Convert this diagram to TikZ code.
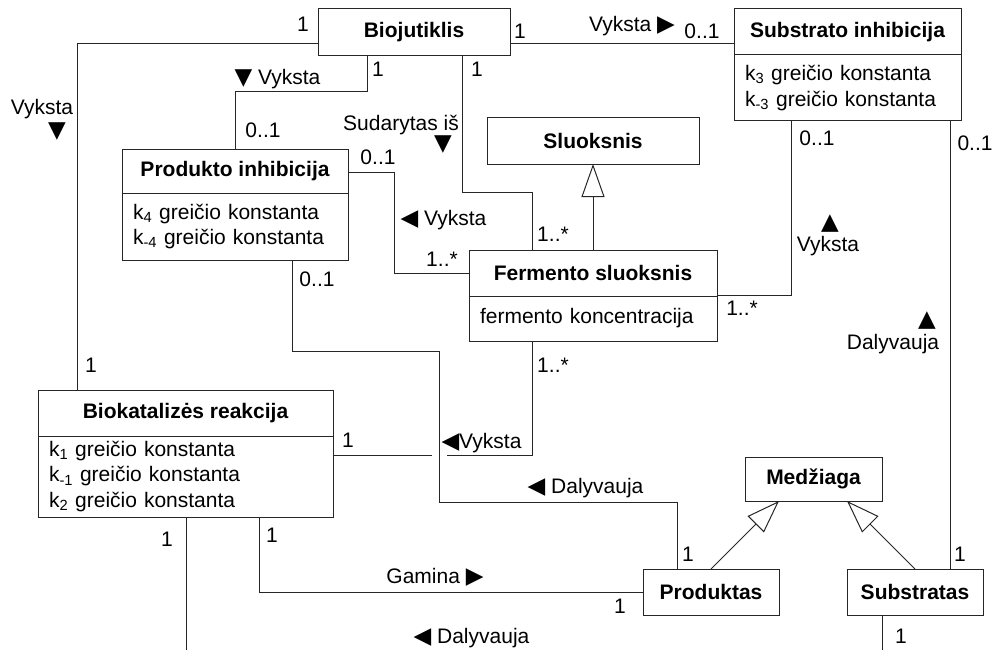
\documentclass[tikz,border=0pt]{standalone}
\usepackage{fontspec}
\setmainfont{Liberation Sans}
\newfontfamily\symf{DejaVu Sans}
\usetikzlibrary{arrows.meta}

\newcommand\dgfont{\fontsize{21pt}{25.5pt}\selectfont}
\newcommand\symsize{\fontsize{23pt}{25.5pt}\selectfont}
\newcommand\tdn{{\symsize\symf ▼}}
\newcommand\tup{{\symsize\symf ▲}}
\newcommand\trt{{\symsize\symf ▶}}
\newcommand\tlt{{\symsize\symf ◀}}

\colorlet{linec}{black!85}

\tikzset{
  cls/.style={draw=linec, line width=1pt, fill=white, font=\dgfont\bfseries,
    inner sep=0pt, outer sep=0pt, anchor=north west},
  attrs/.style={draw=linec, line width=1pt, fill=white, font=\dgfont, align=left,
    inner xsep=11pt, inner ysep=0pt, outer sep=0pt, anchor=north west},
  conn/.style={draw=linec, line width=1pt},
  gen/.style={conn, -{Triangle[open, length=33pt, width=23pt, line width=1pt]}},
  lbl/.style={font=\dgfont, inner sep=0pt, anchor=base},
  sym/.style={font=\dgfont, inner sep=0pt, anchor=center}
}

\begin{document}
\begin{tikzpicture}[x=1pt, y=-1pt]
\useasboundingbox (0,0) rectangle (995,650);

% ---- classes ----
\node[cls, minimum width=192pt, minimum height=47pt] (bioj) at (318,9) {Biojutiklis};

\node[cls, minimum width=227pt, minimum height=46pt] (subinh) at (734,9) {Substrato inhibicija};
\node[attrs, text width=205pt, minimum height=66pt] (subinhb) at (subinh.south west)
  {k\textsubscript{3} greičio konstanta\\k\textsubscript{-3} greičio konstanta};

\node[cls, minimum width=212pt, minimum height=46pt] (sluok) at (487,118) {Sluoksnis};

\node[cls, minimum width=226pt, minimum height=44pt] (prodinh) at (122,149) {Produkto inhibicija};
\node[attrs, text width=204pt, minimum height=67pt] (prodinhb) at (prodinh.south west)
  {k\textsubscript{4} greičio konstanta\\k\textsubscript{-4} greičio konstanta};

\node[cls, minimum width=248pt, minimum height=46pt] (ferm) at (469,250) {Fermento sluoksnis};
\node[attrs, text width=226pt, minimum height=45pt] (fermb) at (ferm.south west)
  {fermento koncentracija};

\node[cls, minimum width=295pt, minimum height=46pt] (biokat) at (38,390) {Biokatalizės reakcija};
\node[attrs, text width=273pt, minimum height=81pt] (biokatb) at (biokat.south west)
  {k\textsubscript{1} greičio konstanta\\k\textsubscript{-1} greičio konstanta\\k\textsubscript{2} greičio konstanta};

\node[cls, minimum width=137pt, minimum height=44pt] (medz) at (745,457) {Medžiaga};
\node[cls, minimum width=136pt, minimum height=46pt] (prod) at (643,569) {Produktas};
\node[cls, minimum width=136pt, minimum height=46pt] (subst) at (847,569) {Substratas};

% ---- bend points ----
\coordinate (a1) at (77,44);
\coordinate (b1) at (367,92);   \coordinate (b2) at (235,92);
\coordinate (d1) at (462,192);  \coordinate (d2) at (532,192);
\coordinate (f1) at (394,172);  \coordinate (f2) at (394,273);
\coordinate (g1) at (791,295);
\coordinate (h1) at (950,121);
\coordinate (i1) at (292,351);  \coordinate (i2) at (439,351);
\coordinate (i3) at (439,502);  \coordinate (i4) at (677,502);
\coordinate (j1) at (532,455);  \coordinate (jr) at (447,455);  \coordinate (jl) at (432,455);
\coordinate (k1) at (259,592);
\coordinate (l1) at (186,650);  \coordinate (l2) at (882,650);
\coordinate (m1) at (779,501);  \coordinate (n1) at (847,501);

% ---- associations ----
\draw[conn] (bioj.west |- a1) -- (a1) -- (a1 |- biokat.north);
\draw[conn] (b1 |- bioj.south) -- (b1) -- (b2) -- (b2 |- prodinh.north);
\draw[conn] (bioj.east |- a1) -- (subinh.west |- a1);
\draw[conn] (d1 |- bioj.south) -- (d1) -- (d2) -- (d2 |- ferm.north);
\draw[conn] (prodinh.east |- f1) -- (f1) -- (f2) -- (f2 -| ferm.west);
\draw[conn] (fermb.east |- g1) -- (g1) -- (g1 |- subinhb.south);
\draw[conn] (subinhb.south -| h1) -- (h1 |- subst.north);
\draw[conn] (i1 |- prodinhb.south) -- (i1) -- (i2) -- (i3) -- (i4) -- (i4 |- prod.north);
\draw[conn] (j1 |- fermb.south) -- (j1) -- (jr);
\draw[conn] (jl) -- (biokatb.east |- jl);
\draw[conn] (k1 |- biokatb.south) -- (k1) -- (k1 -| prod.west);
\draw[conn] (l1 |- biokatb.south) -- (l1);
\draw[conn] (l2 |- subst.south) -- (l2);

% ---- generalizations ----
\draw[gen] (ferm.north) -- (sluok.south);
\draw[gen] (prod.north) -- (medz.south -| m1);
\draw[gen] (subst.north) -- (medz.south -| n1);

% ---- multiplicities ----
\node[lbl] (m01) at (303,32) {1};
\node[lbl] (m02) at (378,77) {1};
\node[lbl] (m03) at (263,138) {0..1};
\node[lbl] (m04) at (477,77) {1};
\node[lbl] (m05) at (378,164) {0..1};
\node[lbl] (m06) at (442,266) {1..*};
\node[lbl] (m07) at (317,286) {0..1};
\node[lbl] (m08) at (520,39) {1};
\node[lbl] (m09) at (702,39) {0..1};
\node[lbl] (m10) at (553,241) {1..*};
\node[lbl] (m11) at (817,146) {0..1};
\node[lbl] (m12) at (975,150) {0..1};
\node[lbl] (m13) at (742,315) {1..*};
\node[lbl] (m14) at (91,372) {1};
\node[lbl] (m15) at (553,372) {1..*};
\node[lbl] (m16) at (348,447) {1};
\node[lbl] (m17) at (688,561) {1};
\node[lbl] (m18) at (960,561) {1};
\node[lbl] (m19) at (167,546) {1};
\node[lbl] (m20) at (272,542) {1};
\node[lbl] (m21) at (620,613) {1};
\node[lbl] (m22) at (901,643) {1};

% ---- association names ----
\node[lbl] (r01) at (42,115) {Vyksta};
\node[sym] (r01s) at (57,132) {\tdn};
\node[lbl] (r02) at (277.5,85) {\tdn{} Vyksta};
\node[lbl] (r03) at (401,130) {Sudarytas iš};
\node[sym] (r03s) at (443,145) {\tdn};
\node[lbl] (r04) at (443.5,225) {\tlt{} Vyksta};
\node[lbl] (r05) at (632,32) {Vyksta \trt};
\node[sym] (r06s) at (830,224) {\tup};
\node[lbl] (r06) at (828,251) {Vyksta};
\node[sym] (r07s) at (927,321) {\tup};
\node[lbl] (r07) at (893,349) {Dalyvauja};
\node[lbl] (r08) at (481.5,448) {\tlt Vyksta};
\node[lbl] (r09) at (585.5,493) {\tlt{} Dalyvauja};
\node[lbl] (r10) at (435,583) {Gamina \trt};
\node[lbl] (r11) at (471.5,643) {\tlt{} Dalyvauja};

\end{tikzpicture}
\end{document}
